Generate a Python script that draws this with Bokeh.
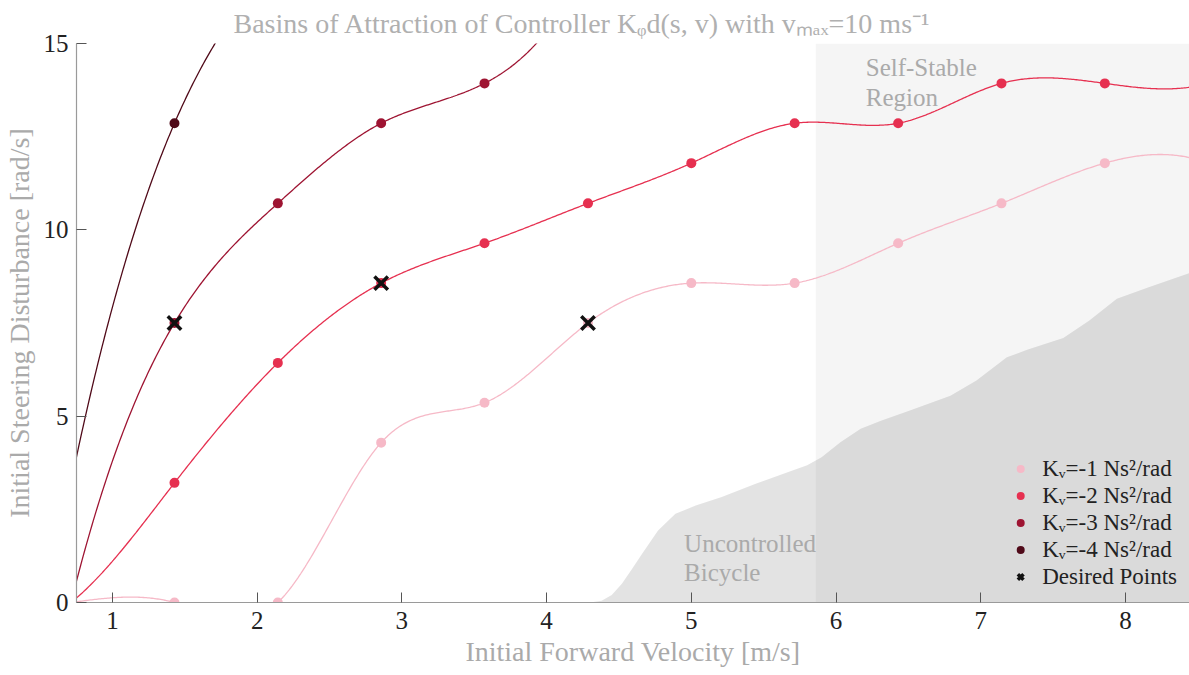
import numpy as np
from bokeh.plotting import figure
from bokeh.models import Range1d, FixedTicker, Title
from bokeh.core.properties import value
from bokeh.embed import file_html
from bokeh.resources import INLINE

# ---------------- data ----------------
velocity = [0.0, 0.714, 1.429, 2.143, 2.857, 3.571, 4.286, 5.0, 5.714, 6.429, 7.143, 7.857, 8.571]
kv1 = [0.0, 0.0, 0.0, 0.0, 4.29, 5.36, 7.50, 8.57, 8.57, 9.64, 10.71, 11.79, 11.79]
kv2 = [0.0, 0.0, 3.21, 6.43, 8.57, 9.64, 10.71, 11.79, 12.86, 12.86, 13.93, 13.93, 13.93]
kv3_vel = [0.714, 1.429, 2.143, 2.857, 3.571, 4.286]
kv3 = [0.0, 7.50, 10.71, 12.86, 13.93, 17.14]
kv4_vel = [0.714, 1.429, 2.143, 2.857]
kv4 = [3.21, 12.86, 17.14, 19.29]

desired_vel = [1.429, 2.857, 4.286]
desired_dist = [7.50, 8.57, 7.50]

uncontrolled_vel = [4.30, 4.38, 4.45, 4.52, 4.59, 4.66, 4.77, 4.89, 5.03, 5.21, 5.44, 5.67, 5.80, 5.90,
                    6.03, 6.17, 6.31, 6.51, 6.79, 6.97, 7.18, 7.32, 7.57, 7.75, 7.94, 8.16, 8.45]
uncontrolled_dist = [0.0, 0.05, 0.20, 0.50, 0.90, 1.31, 1.93, 2.38, 2.60, 2.83, 3.18, 3.50, 3.68, 3.90,
                     4.30, 4.66, 4.88, 5.15, 5.55, 5.96, 6.58, 6.78, 7.10, 7.57, 8.15, 8.46, 8.85]
self_stable_from = 5.86

x_ticks = [1, 2, 3, 4, 5, 6, 7, 8]
y_ticks = [0, 5, 10, 15]

labels = ["K\u1d65=-1 Ns\u00b2/rad", "K\u1d65=-2 Ns\u00b2/rad", "K\u1d65=-3 Ns\u00b2/rad", "K\u1d65=-4 Ns\u00b2/rad"]
colors = ["#f6b9c7", "#e63050", "#9e1432", "#500a19"]

FONT = "Liberation Serif"


def spline_not_a_knot(x, y):
    x = np.asarray(x, float)
    y = np.asarray(y, float)
    n = len(x)
    h = np.diff(x)
    d = np.diff(y) / h
    A = np.zeros((n, n))
    r = np.zeros(n)
    A[0, 0], A[0, 1], A[0, 2] = -h[1], h[0] + h[1], -h[0]
    for i in range(1, n - 1):
        A[i, i - 1] = h[i - 1]
        A[i, i] = 2 * (h[i - 1] + h[i])
        A[i, i + 1] = h[i]
        r[i] = 6 * (d[i] - d[i - 1])
    A[n - 1, n - 3], A[n - 1, n - 2], A[n - 1, n - 1] = -h[n - 2], h[n - 3] + h[n - 2], -h[n - 3]
    M = np.linalg.solve(A, r)

    def f(xs):
        xs = np.asarray(xs, float)
        i = np.clip(np.searchsorted(x, xs) - 1, 0, n - 2)
        t = xs - x[i]
        b = d[i] - h[i] * (2 * M[i] + M[i + 1]) / 6
        return y[i] + b * t + M[i] / 2 * t ** 2 + (M[i + 1] - M[i]) / (6 * h[i]) * t ** 3
    return f


p = figure(width=1189, height=675, output_backend="svg", toolbar_location=None,
           x_range=Range1d(0.752, 8.442), y_range=Range1d(0, 15),
           min_border_left=75, min_border_right=0, min_border_top=43, min_border_bottom=73)
p.outline_line_color = None
p.xgrid.visible = False
p.ygrid.visible = False
p.background_fill_color = "white"
p.border_fill_color = "white"

p.title = Title(text="Basins of Attraction of Controller K\u1d69d(s, v) with v\u2098\u2090\u2093=10 ms\u207b\u00b9",
                align="left", offset=157, text_font=FONT, text_font_size="28px",
                text_font_style="normal", text_color="#b0b0b0")

# regions
p.quad(left=self_stable_from, right=8.442, bottom=0, top=15, fill_color="#f5f5f5", line_color=None)
p.varea(x=uncontrolled_vel, y1=0, y2=uncontrolled_dist, fill_color="#000000", fill_alpha=0.11)

p.text(x=[6.205, 6.205], y=[14.35, 13.55], text=["Self-Stable", "Region"], text_font=value(FONT),
       text_font_size="25px", text_color="#aaaaaa", text_baseline="middle")
p.text(x=[4.95, 4.95], y=[1.58, 0.80], text=["Uncontrolled", "Bicycle"], text_font=value(FONT),
       text_font_size="25px", text_color="#aaaaaa", text_baseline="middle")

series = [(velocity, kv1), (velocity, kv2), (kv3_vel, kv3), (kv4_vel, kv4)]
xs = np.linspace(0.70, 8.60, 800)
for (vx, vy), c in zip(series, colors):
    f = spline_not_a_knot(vx, vy)
    p.line(xs, f(xs), line_color=c, line_width=1.3)
for (vx, vy), c, lab in zip(series, colors, labels):
    p.scatter(vx, vy, size=10, fill_color=c, line_color=None, legend_label=lab)

p.scatter(desired_vel, desired_dist, marker="x", size=19, line_color="#111111", line_width=3.5,
          legend_label="Desired Points")

for ax, ticks in ((p.xaxis, x_ticks), (p.yaxis, y_ticks)):
    ax.ticker = FixedTicker(ticks=ticks)
    ax.minor_tick_line_color = None
    ax.major_tick_in = 10
    ax.major_tick_out = 0
    ax.axis_line_color = "#9a9a9a"
    ax.axis_line_width = 1.2
    ax.major_tick_line_color = "#555555"
    ax.major_label_text_font = FONT
    ax.major_label_text_font_size = "25px"
    ax.major_label_text_color = "#222222"
    ax.axis_label_text_font = FONT
    ax.axis_label_text_font_size = "28px"
    ax.axis_label_text_font_style = "normal"
    ax.axis_label_text_color = "#aaaaaa"

p.xaxis.axis_label = "Initial Forward Velocity [m/s]"
p.yaxis.axis_label = "Initial Steering Disturbance [rad/s]"
p.xaxis.major_label_standoff = 9
p.yaxis.major_label_standoff = 8
p.xaxis.axis_label_standoff = 4
p.yaxis.axis_label_standoff = 6

lg = p.legend[0]
lg.location = "bottom_right"
lg.background_fill_alpha = 0
lg.border_line_alpha = 0
lg.label_text_font = FONT
lg.label_text_font_size = "23px"
lg.label_text_color = "#222222"
lg.spacing = 0
lg.label_height = 27
lg.glyph_height = 27
lg.glyph_width = 20
lg.label_standoff = 12
lg.padding = 4
lg.margin = 8

open("out.html", "w").write(file_html(p, INLINE))
